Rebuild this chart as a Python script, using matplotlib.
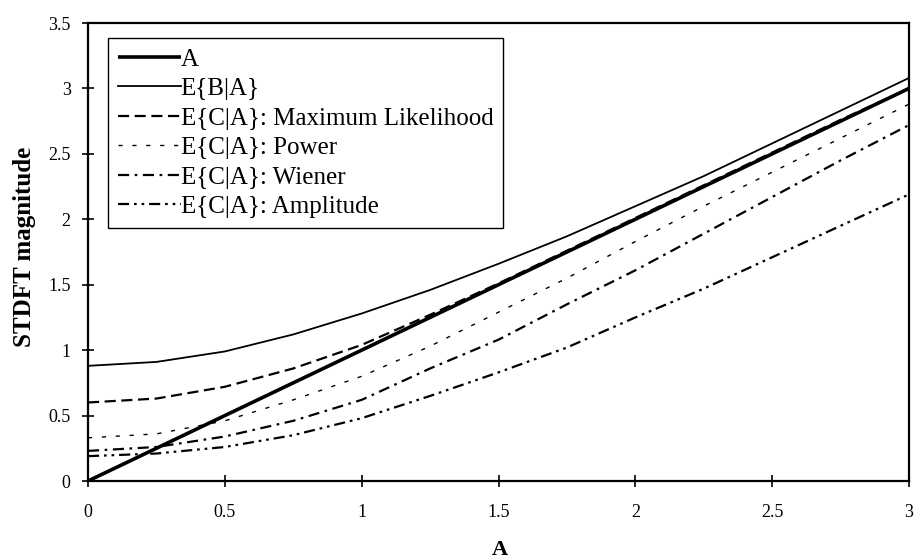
import matplotlib
matplotlib.use("Agg")
import matplotlib.pyplot as plt
from matplotlib.ticker import MultipleLocator, FuncFormatter

plt.rcParams['font.family'] = ['Liberation Serif', 'DejaVu Serif']

x = [0, 0.25, 0.5, 0.75, 1.0, 1.25, 1.5, 1.75, 2.0, 2.25, 2.5, 2.75, 3.0]
a_true = [0, 0.25, 0.5, 0.75, 1.0, 1.25, 1.5, 1.75, 2.0, 2.25, 2.5, 2.75, 3.0]
e_b = [0.88, 0.91, 0.99, 1.12, 1.28, 1.46, 1.66, 1.87, 2.10, 2.33, 2.58, 2.83, 3.08]
e_ml = [0.60, 0.63, 0.72, 0.86, 1.04, 1.27, 1.51, 1.76, 2.01, 2.26, 2.51, 2.76, 3.00]
e_power = [0.33, 0.36, 0.46, 0.62, 0.80, 1.03, 1.29, 1.55, 1.83, 2.10, 2.36, 2.62, 2.88]
e_wiener = [0.23, 0.26, 0.34, 0.46, 0.62, 0.86, 1.08, 1.35, 1.61, 1.89, 2.17, 2.45, 2.72]
e_amp = [0.19, 0.21, 0.26, 0.35, 0.48, 0.65, 0.83, 1.02, 1.25, 1.47, 1.71, 1.95, 2.19]

labels = ["A", "E{B|A}", "E{C|A}: Maximum Likelihood", "E{C|A}: Power",
          "E{C|A}: Wiener", "E{C|A}: Amplitude"]

fig = plt.figure(figsize=(9.15, 5.59), dpi=100)
ax = fig.add_axes([88/915, 1-481/559, (909-88)/915, (481-23)/559])

ax.plot(x, a_true, color='black', lw=2.6, solid_capstyle='butt', label=labels[0])
ax.plot(x, e_b, color='black', lw=1.3, label=labels[1])
ax.plot(x, e_ml, color='black', lw=1.6, dashes=(5, 2.5), label=labels[2])
ax.plot(x, e_power, color='black', lw=1.0, dashes=(3, 7), label=labels[3])
ax.plot(x, e_wiener, color='black', lw=1.6, dashes=(5, 2.5, 1.2, 2.5), label=labels[4])
ax.plot(x, e_amp, color='black', lw=1.6, dashes=(5, 2.2, 1.2, 2.2, 1.2, 2.2), label=labels[5])

ax.set_xlim(0, 3)
ax.set_ylim(0, 3.5)
ax.xaxis.set_major_locator(MultipleLocator(0.5))
ax.yaxis.set_major_locator(MultipleLocator(0.5))
fmt = FuncFormatter(lambda v, p: ('%g' % v))
ax.xaxis.set_major_formatter(fmt)
ax.yaxis.set_major_formatter(fmt)
ax.tick_params(axis='both', direction='inout', length=9, width=1.2, labelsize=13, colors='black')
ax.tick_params(axis='x', pad=12)
ax.tick_params(axis='y', pad=8)
for s in ax.spines.values():
    s.set_linewidth(1.6)
    s.set_color('black')

fig.text(500/915, 1-555/559, "A", fontsize=16, fontweight='bold',
         ha='center', va='baseline')
fig.text(25/915, 1-347/559, "STDFT magnitude", fontsize=18, fontweight='bold',
         rotation=90, ha='center', va='bottom')

leg = ax.legend(loc='upper left', bbox_to_anchor=(0.0244, 0.967), fontsize=18,
                handlelength=2.5, handletextpad=0.0, labelspacing=0.28,
                borderpad=0.4, borderaxespad=0, fancybox=False, frameon=True,
                framealpha=1)
leg.get_frame().set_edgecolor('black')
leg.get_frame().set_linewidth(1.0)

fig.savefig("out.png", dpi=100, facecolor='white')
